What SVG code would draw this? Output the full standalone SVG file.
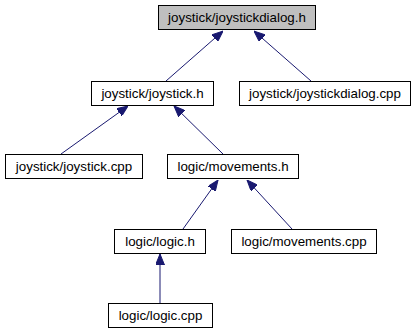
<svg xmlns="http://www.w3.org/2000/svg" width="417" height="336" viewBox="0 0 417 336">
  <style>
    .node rect { fill: #ffffff; stroke: #000000; stroke-width: 1; }
    .node.root rect { fill: #bfbfbf; }
    .node text { font-family: "Liberation Sans", Arial, sans-serif; font-size: 13.33px; fill: #000000; text-anchor: middle; }
    .edge { stroke: #191970; stroke-width: 1; fill: none; marker-end: url(#head); }
  </style>
  <defs>
    <marker id="head" viewBox="0 0 11 9" refX="11" refY="4.5" markerWidth="11" markerHeight="9" markerUnits="userSpaceOnUse" orient="auto">
      <path d="M0,0 L11,4.5 L0,9 Z" fill="#191970" stroke="#191970"/>
    </marker>
  </defs>
  <rect width="417" height="336" fill="#ffffff"/>

  <!-- include edges: child points up to the header it includes -->
  <g id="edges">
    <line class="edge" x1="166" y1="81" x2="223" y2="31"/>
    <line class="edge" x1="311" y1="81" x2="254" y2="31"/>
    <line class="edge" x1="61" y1="154" x2="128" y2="106"/>
    <line class="edge" x1="223" y1="154" x2="174" y2="106"/>
    <line class="edge" x1="183" y1="229" x2="218" y2="180"/>
    <line class="edge" x1="292" y1="229" x2="247" y2="180"/>
    <line class="edge" x1="160" y1="303" x2="160" y2="254"/>
  </g>

  <g id="joystickdialog_h" class="node root">
    <rect x="158.5" y="5.5" width="157" height="24"/>
    <text x="237" y="22">joystick/joystickdialog.h</text>
  </g>
  <g id="joystick_h" class="node">
    <rect x="91.5" y="81.5" width="122" height="24"/>
    <text x="152.5" y="98">joystick/joystick.h</text>
  </g>
  <g id="joystickdialog_cpp" class="node">
    <rect x="239.5" y="81.5" width="171" height="24"/>
    <text x="325" y="98">joystick/joystickdialog.cpp</text>
  </g>
  <g id="joystick_cpp" class="node">
    <rect x="5.5" y="154.5" width="137" height="24"/>
    <text x="74" y="171">joystick/joystick.cpp</text>
  </g>
  <g id="movements_h" class="node">
    <rect x="167.5" y="154.5" width="131" height="24"/>
    <text x="233" y="171">logic/movements.h</text>
  </g>
  <g id="logic_h" class="node">
    <rect x="114.5" y="229.5" width="91" height="24"/>
    <text x="160" y="246">logic/logic.h</text>
  </g>
  <g id="movements_cpp" class="node">
    <rect x="231.5" y="229.5" width="145" height="24"/>
    <text x="304" y="246">logic/movements.cpp</text>
  </g>
  <g id="logic_cpp" class="node">
    <rect x="108.5" y="303.5" width="104" height="24"/>
    <text x="160.5" y="320">logic/logic.cpp</text>
  </g>
</svg>
